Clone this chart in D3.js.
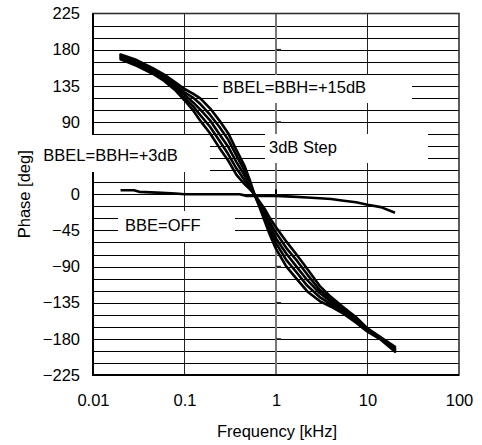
<!DOCTYPE html>
<html>
<head>
<meta charset="utf-8">
<script src="https://cdn.jsdelivr.net/npm/d3@7"></script>
<style>
  html, body { margin: 0; padding: 0; background: #fff; }
  svg { display: block; }
  text { font-family: "Liberation Sans", Arial, sans-serif; font-size: 16.5px; fill: #000; }
</style>
</head>
<body>
<svg id="chart" width="482" height="445"></svg>
<script>
// ---- data ----
const freq = [0.02, 0.03, 0.045, 0.06, 0.08, 0.1, 0.125, 0.15, 0.19, 0.24, 0.3, 0.37, 0.45, 0.52, 0.58, 0.66, 0.75, 0.86, 1.0, 1.3, 1.7, 2.2, 3.0, 4.0, 5.5, 7.5, 10, 14, 20];
const phase15dB = [174, 167, 157, 149, 139, 131, 125, 119, 107, 92, 76, 55, 36, 17, 0, -16, -33, -51, -68, -90, -106, -121, -133, -140, -149, -160, -171, -181, -196];
const phase12dB = [173, 165, 155, 147, 136, 127, 120, 112, 99, 84, 68, 48, 30, 14, 0, -14, -29, -46, -61, -82, -98, -114, -128, -137, -147, -158, -170, -180, -194];
const phase9dB  = [171, 164, 154, 145, 134, 124, 114, 105, 92, 75, 59, 40, 24, 11, 0, -12, -25, -40, -55, -74, -91, -107, -123, -134, -145, -157, -169, -180, -193];
const phase6dB  = [170, 162, 152, 143, 131, 120, 109, 98, 84, 67, 50, 32, 18, 8, 0, -11, -22, -35, -48, -67, -83, -100, -119, -131, -143, -155, -168, -179, -192];
const phase3dB  = [168, 160, 150, 141, 129, 117, 104, 91, 76, 58, 42, 24, 13, 6, 0, -9, -18, -30, -41, -59, -76, -93, -114, -128, -141, -153, -167, -178, -190];
const offFreq  = [0.02, 0.028, 0.032, 0.05, 0.08, 0.1, 0.2, 0.4, 0.48, 1.0, 1.5, 2.2, 3.0, 4.0, 5.5, 7.5, 10, 14, 20];
const offPhase = [5, 5, 3, 2, 1, 0, 0, 0, -2, -2, -3, -4, -5, -6, -8, -10, -13, -16, -23];
const xTicks = [0.01, 0.1, 1, 10, 100];
const xTickLabels = ["0.01", "0.1", "1", "10", "100"];
const yTicks = [-225, -180, -135, -90, -45, 0, 45, 90, 135, 180, 225];
// the "45" label is hidden behind the "BBEL=BBH=+3dB" box in the reference
const yTickLabels = [-225, -180, -135, -90, -45, 0, 90, 135, 180, 225];
const yGrid = d3.range(-210, 225, 15);
const xTitle = "Frequency [kHz]";
const yTitle = "Phase [deg]";
const labels = [
  { text: "BBEL=BBH=+15dB", box: [218, 75, 412, 103], tx: 222.5, ty: 93.3 },
  { text: "3dB Step",       box: [265, 134, 428, 163], tx: 269, ty: 153.3 },
  { text: "BBEL=BBH=+3dB",  box: [38, 135, 210, 172], tx: 43.3, ty: 160.7 },
  { text: "BBE=OFF",        box: [118, 211, 235, 242], tx: 125, ty: 231 }
];

// ---- layout ----
const L = 93, R = 459, T = 13.5, B = 375;
const svg = d3.select("#chart");
const x = d3.scaleLog().domain([0.01, 100]).range([L, R]);
const y = d3.scaleLinear().domain([-225, 225]).range([B, T]);

// horizontal gridlines
svg.append("g").selectAll("line").data(yGrid).join("line")
  .attr("x1", L).attr("x2", R)
  .attr("y1", d => Math.round(y(d)) + 0.5).attr("y2", d => Math.round(y(d)) + 0.5)
  .attr("stroke", "#000").attr("stroke-width", 1);

// vertical gridlines
svg.append("g").selectAll("line").data([0.1, 10]).join("line")
  .attr("x1", d => Math.round(x(d)) + 0.5).attr("x2", d => Math.round(x(d)) + 0.5)
  .attr("y1", T).attr("y2", B)
  .attr("stroke", "#222").attr("stroke-width", 1);
svg.append("line")
  .attr("x1", x(1)).attr("x2", x(1)).attr("y1", T).attr("y2", B)
  .attr("stroke", "#777").attr("stroke-width", 2);
// small tick marks on the 1 kHz line
svg.append("g").selectAll("line").data(yTicks.filter(d => d !== 0 && Math.abs(d) !== 225)).join("line")
  .attr("x1", x(1)).attr("x2", x(1) + 5)
  .attr("y1", d => y(d)).attr("y2", d => y(d))
  .attr("stroke", "#333").attr("stroke-width", 1.5);
svg.append("line")
  .attr("x1", x(1)).attr("x2", x(1)).attr("y1", y(0) - 5).attr("y2", y(0))
  .attr("stroke", "#000").attr("stroke-width", 2);

// frame
svg.append("rect").attr("x", L).attr("y", T).attr("width", R - L).attr("height", B - T)
  .attr("fill", "none").attr("stroke", "#333").attr("stroke-width", 1.6);
svg.append("line").attr("x1", L).attr("x2", L).attr("y1", T).attr("y2", B + 1)
  .attr("stroke", "#000").attr("stroke-width", 2);
svg.append("line").attr("x1", L - 1).attr("x2", R).attr("y1", B).attr("y2", B)
  .attr("stroke", "#000").attr("stroke-width", 2);

// axes (labels only)
const yAxis = svg.append("g").attr("transform", `translate(${L},0)`)
  .call(d3.axisLeft(y).tickValues(yTickLabels).tickSize(0).tickPadding(13).tickFormat(d3.format("d")));
const xAxis = svg.append("g").attr("transform", `translate(0,${B})`)
  .call(d3.axisBottom(x).tickValues(xTicks).tickSize(0).tickPadding(19.3)
    .tickFormat((d, i) => xTickLabels[i]));
[yAxis, xAxis].forEach(a => {
  a.select(".domain").remove();
  a.selectAll("text").attr("font-family", "Liberation Sans, Arial, sans-serif").attr("font-size", 16.5).attr("fill", "#000");
});

// titles
svg.append("text").attr("x", 277).attr("y", 437).attr("text-anchor", "middle").text(xTitle);
svg.append("text").attr("transform", `translate(29.5,${(T + B) / 2}) rotate(-90)`)
  .attr("text-anchor", "middle").text(yTitle);

// label boxes (cover gridlines)
svg.append("g").selectAll("rect").data(labels).join("rect")
  .attr("x", d => d.box[0]).attr("y", d => d.box[1])
  .attr("width", d => d.box[2] - d.box[0]).attr("height", d => d.box[3] - d.box[1])
  .attr("fill", "#fff");
svg.append("g").selectAll("text").data(labels).join("text")
  .attr("x", d => d.tx).attr("y", d => d.ty).text(d => d.text);

// curves
const line = d3.line().x(d => x(d[0])).y(d => y(d[1]));
const series = [phase15dB, phase12dB, phase9dB, phase6dB, phase3dB];
svg.append("g").selectAll("path").data(series).join("path")
  .attr("d", s => line(freq.map((f, i) => [f, s[i]])))
  .attr("fill", "none").attr("stroke", "#000").attr("stroke-width", 2.6)
  .attr("stroke-linejoin", "round").attr("stroke-linecap", "round");
svg.append("path")
  .attr("d", line(offFreq.map((f, i) => [f, offPhase[i]])))
  .attr("fill", "none").attr("stroke", "#000").attr("stroke-width", 2.6)
  .attr("stroke-linejoin", "round");
</script>
</body>
</html>
